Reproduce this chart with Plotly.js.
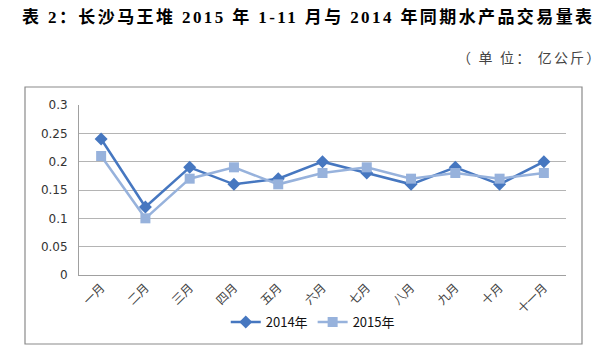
<!DOCTYPE html>
<html><head><meta charset="utf-8">
<script src="https://cdn.plot.ly/plotly-3.0.1.min.js"></script>
<style>body{margin:0;background:#fff}#c{width:604px;height:355px}</style>
</head><body><div id="c"></div>
<script>
const months = ['一月','二月','三月','四月','五月','六月','七月','八月','九月','十月','十一月'];
const v2014 = [0.24,0.12,0.19,0.16,0.17,0.20,0.18,0.16,0.19,0.16,0.20];
const v2015 = [0.21,0.10,0.17,0.19,0.16,0.18,0.19,0.17,0.18,0.17,0.18];
const yTicks = [0,0.05,0.1,0.15,0.2,0.25,0.3];

const traces = [
 {x:months,y:v2014,name:'2014年',type:'scatter',mode:'lines+markers',
  line:{color:'#4677C0',width:2.5},marker:{symbol:'diamond',size:10,color:'#4677C0'}},
 {x:months,y:v2015,name:'2015年',type:'scatter',mode:'lines+markers',
  line:{color:'#97B2DC',width:2.5},marker:{symbol:'square',size:10,color:'#97B2DC'}}
];
const L=79,R=38,T=105,B=80,W=604,H=355;
const pw=W-L-R, ph=H-T-B;
const px=x=>(x-L)/pw, py=y=>(H-B-y)/ph;
const layout = {
 width:W,height:H,margin:{l:L,r:R,t:T,b:B},
 paper_bgcolor:'#fff',plot_bgcolor:'#fff',showlegend:true,
 font:{family:'"Noto Sans CJK SC", "DejaVu Sans", sans-serif',size:12,color:'#333'},
 xaxis:{type:'category',tickangle:-45,showgrid:false,showline:true,linecolor:'#a0a0a0',ticks:'',
   tickfont:{size:12,color:'#444'},range:[-0.5,10.5],automargin:false},
 yaxis:{range:[0,0.3],tickvals:yTicks,ticktext:yTicks.map(String),showgrid:true,gridcolor:'#b4b4b4',
   zeroline:false,showline:true,linecolor:'#a0a0a0',ticks:'',ticklabelstandoff:8,
   tickfont:{family:'"DejaVu Sans", sans-serif',size:12,color:'#333'},automargin:false},
 legend:{orientation:'h',x:0.48,xanchor:'center',yref:'container',y:1-322/H,yanchor:'middle',
   font:{size:13,color:'#111'},itemwidth:30},
 shapes:[{type:'rect',xref:'paper',yref:'paper',x0:px(25),x1:px(582),y0:py(344),y1:py(87),
   line:{color:'#8a8a8a',width:1.2}}],
 annotations:[
  {xref:'paper',yref:'paper',x:px(308),y:py(17),xanchor:'center',yanchor:'middle',showarrow:false,
   text:'<b>表 2：长沙马王堆 2015 年 1-11 月与 2014 年同期水产品交易量表</b>',
   font:{family:'"Liberation Serif", "Noto Sans CJK SC", serif',size:17,color:'#000'}},
  {xref:'paper',yref:'paper',x:px(529),y:py(57),xanchor:'center',yanchor:'middle',showarrow:false,
   text:'（ 单 位： 亿公斤）',font:{family:'"Noto Sans CJK SC", sans-serif',size:14,color:'#444'}}
 ]
};
Plotly.newPlot('c',traces,layout,{displayModeBar:false}).then(()=>{
  const t=document.querySelectorAll('.annotation-text');
  if(t[0]) t[0].style.letterSpacing='2.4px';
  if(t[1]) t[1].style.letterSpacing='2.2px';
});
</script></body></html>
